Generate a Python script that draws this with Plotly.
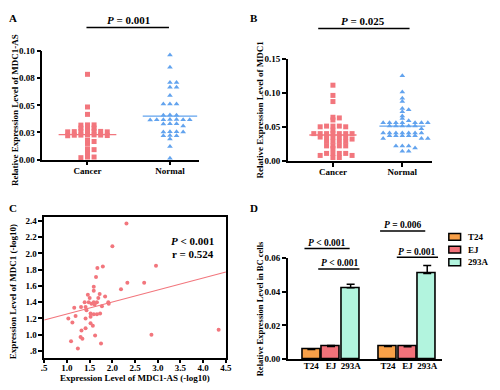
import numpy as np
import plotly.graph_objects as go

W, H = 500, 390
def px(x): return x / W
def py(y): return 1 - y / H

FONT = "Liberation Serif"
RED = "#F2767D"
BLUE = "#62A3EE"

# ---------------- Panel A data ----------------
A_categories = ["Cancer", "Normal"]
A_cancer = [0.0786, 0.0485, 0.0417,
            0.0320, 0.0320, 0.0318,
            0.0295, 0.0290, 0.0290,
            0.0265, 0.0262, 0.0262, 0.0260, 0.0258, 0.0256, 0.0256,
            0.0228, 0.0228, 0.0226, 0.0226, 0.0225, 0.0222, 0.0220,
            0.0179, 0.0167, 0.0149,
            0.0100, 0.0092,
            0.0071, 0.0048,
            0.0024, 0.0024, 0.0018]
A_normal = [0.0964, 0.0851, 0.0711, 0.0711, 0.0667, 0.0667, 0.0592,
            0.0512, 0.0512, 0.0512,
            0.0412, 0.0410, 0.0410,
            0.0369, 0.0369, 0.0368, 0.0368, 0.0367, 0.0367, 0.0366,
            0.0330, 0.0330, 0.0328, 0.0310,
            0.0256, 0.0256, 0.0255, 0.0255,
            0.0222, 0.0220, 0.0220,
            0.0190, 0.0122, 0.0012]
A_center = [0.023, 0.040]
A_ticks = [0, 0.025, 0.05, 0.075, 0.10]
A_ticktext = ["0.00", "0.03", "0.05", "0.08", "0.10"]

# ---------------- Panel B data ----------------
B_categories = ["Cancer", "Normal"]
B_cancer = [0.111, 0.096, 0.087, 0.064, 0.063, 0.060,
            0.051, 0.051, 0.051, 0.050, 0.050,
            0.045,
            0.040, 0.040, 0.040, 0.040, 0.040, 0.040, 0.040,
            0.035, 0.035, 0.035, 0.035, 0.035,
            0.032,
            0.0286, 0.0286, 0.0286, 0.0286,
            0.022, 0.022, 0.022, 0.022,
            0.018,
            0.011, 0.011, 0.011, 0.011,
            0.008, 0.008, 0.005, 0.005]
B_normal = [0.125, 0.101, 0.092, 0.087, 0.077, 0.075, 0.072, 0.066, 0.062, 0.059,
            0.056, 0.056, 0.056, 0.056, 0.056, 0.056, 0.056,
            0.051, 0.051, 0.051, 0.051, 0.051,
            0.047,
            0.041, 0.041, 0.041, 0.041, 0.041, 0.041, 0.041,
            0.037, 0.037, 0.037, 0.037, 0.037,
            0.033, 0.033, 0.033,
            0.022, 0.022, 0.022,
            0.019, 0.014, 0.014]
B_center = [0.038, 0.051]
B_ticks = [0, 0.05, 0.10, 0.15]
B_ticktext = ["0.00", "0.05", "0.10", "0.15"]

# ---------------- Panel C data ----------------
C_x = [2.31, 2.00, 1.67, 1.79, 1.64, 1.59, 1.59, 2.19, 2.33, 1.46, 1.72, 1.50, 1.69, 1.84,
       1.39, 1.48, 1.59, 1.66, 1.54, 1.61, 1.77, 1.91, 1.92, 1.16, 1.31, 1.41, 1.43, 1.52,
       1.59, 1.66, 1.73, 1.19, 1.03, 1.41, 1.52, 1.12, 1.52, 1.57, 1.41, 1.32, 1.62, 1.30,
       1.34, 1.09, 1.75, 1.24, 2.96, 2.70, 2.86, 4.34]
C_y = [2.37, 2.09, 1.82, 1.84, 1.71, 1.59, 1.54, 1.56, 1.64, 1.49, 1.50, 1.45, 1.45, 1.47,
       1.40, 1.40, 1.40, 1.40, 1.38, 1.37, 1.35, 1.40, 1.38, 1.33, 1.34, 1.34, 1.30, 1.26,
       1.25, 1.25, 1.26, 1.23, 1.20, 1.20, 1.22, 1.15, 1.14, 1.11, 1.08, 1.05, 0.99, 0.97,
       0.95, 0.92, 0.89, 0.83, 1.85, 1.64, 1.00, 1.06]
C_fit = [1.106, 0.148]  # intercept, slope
C_xticks = [0.5, 1.0, 1.5, 2.0, 2.5, 3.0, 3.5, 4.0, 4.5]
C_xticktext = [".5", "1.0", "1.5", "2.0", "2.5", "3.0", "3.5", "4.0", "4.5"]
C_yticks = [0.8, 1.0, 1.2, 1.4, 1.6, 1.8, 2.0, 2.2, 2.4]
C_yticktext = [".8", "1.0", "1.2", "1.4", "1.6", "1.8", "2.0", "2.2", "2.4"]
C_xrange = [0.5, 4.5]
C_yrange = [0.716, 2.444]

# ---------------- Panel D data ----------------
D_series = ["T24", "EJ", "293A"]
D_values = {"T24": [0.0056, 0.0075], "EJ": [0.0075, 0.0073], "293A": [0.0424, 0.0510]}
D_errors = {"T24": [0.0003, 0.0002], "EJ": [0.0006, 0.0003], "293A": [0.0022, 0.0048]}
D_colors = {"T24": "#F8A048", "EJ": "#F2727A", "293A": "#B2F4DE"}
D_ticks = [0, 0.02, 0.04, 0.06]
D_ticktext = ["0.00", "0.02", "0.04", "0.06"]


def swarm(vals, thresh):
    vals = np.asarray(vals, dtype=float)
    order = np.argsort(-vals, kind="stable")
    placed = []
    slots = np.zeros(len(vals))
    cand = [0]
    for k in range(1, 12):
        cand += [k, -k]
    for i in order:
        v = vals[i]
        for k in cand:
            if all(not (s == k and abs(pv - v) < thresh) for pv, s in placed):
                break
        placed.append((v, k))
        slots[i] = k
    return slots


fig = go.Figure()

def add_dots(vals, cat, step, thresh, symbol, color, xa, ya):
    off = swarm(vals, thresh) * step
    fig.add_trace(go.Scatter(x=cat + off, y=vals, mode="markers", xaxis=xa, yaxis=ya,
                             marker=dict(symbol=symbol, size=5, color=color, line=dict(width=0)),
                             cliponaxis=False, showlegend=False, hoverinfo="skip"))

def add_center(c, cat, half, color, xa, ya):
    fig.add_trace(go.Scatter(x=[cat - half, cat + half], y=[c, c], mode="lines",
                             xaxis=xa, yaxis=ya, line=dict(color=color, width=1.3),
                             showlegend=False, hoverinfo="skip"))

# Panel A
add_dots(A_cancer, 0, 0.08, 0.002, "square", RED, "x", "y")
add_dots(A_normal, 1, 0.08, 0.0025, "triangle-up", BLUE, "x", "y")
add_center(A_center[0], 0, 0.35, RED, "x", "y")
add_center(A_center[1], 1, 0.33, BLUE, "x", "y")

# Panel B
add_dots(B_cancer, 0, 0.092, 0.004, "square", RED, "x2", "y2")
add_dots(B_normal, 1, 0.092, 0.004, "triangle-up", BLUE, "x2", "y2")
add_center(B_center[0], 0, 0.34, RED, "x2", "y2")
add_center(B_center[1], 1, 0.33, BLUE, "x2", "y2")

# Panel C
fig.add_trace(go.Scatter(x=C_x, y=C_y, mode="markers", xaxis="x3", yaxis="y3",
                         marker=dict(symbol="circle", size=4, color=RED),
                         showlegend=False, hoverinfo="skip"))
fx = np.array(C_xrange)
fig.add_trace(go.Scatter(x=fx, y=C_fit[0] + C_fit[1] * fx, mode="lines", xaxis="x3", yaxis="y3",
                         line=dict(color=RED, width=1.2), showlegend=False, hoverinfo="skip"))

# Panel D
GROUP_STEP = 3.9
for si, s in enumerate(D_series):
    xs = [g * GROUP_STEP + si for g in range(len(D_values[s]))]
    fig.add_trace(go.Bar(x=xs, y=D_values[s], name=s, xaxis="x4", yaxis="y4", width=0.92,
                         marker=dict(color=D_colors[s], line=dict(color="black", width=1.6)),
                         error_y=dict(type="data", array=D_errors[s], arrayminus=[0] * 2,
                                      symmetric=False, color="black", thickness=1.5, width=4),
                         showlegend=False))
D_tickvals = [g * GROUP_STEP + si for g in range(2) for si in range(3)]
D_ticklabels = [s for g in range(2) for s in D_series]

tickfont = dict(family=FONT, size=9, color="black", weight="bold")
axis_common = dict(showline=True, linecolor="black", linewidth=1.5, showgrid=False, zeroline=False,
                   ticks="outside", ticklen=4, tickwidth=1.5, tickcolor="black", tickfont=tickfont)

fig.update_layout(
    width=W, height=H, margin=dict(l=0, r=0, t=0, b=0),
    paper_bgcolor="white", plot_bgcolor="white", barmode="overlay", bargap=0,
    showlegend=False,
    xaxis=dict(domain=[px(40), px(200)], range=[-0.548, 1.357], anchor="y",
               tickvals=[0, 1], ticktext=A_categories, ticklabelstandoff=-2, **axis_common),
    yaxis=dict(domain=[py(158.7), py(47.3)], range=[0, 0.1], anchor="x",
               tickvals=A_ticks, ticktext=A_ticktext, **axis_common),
    xaxis2=dict(domain=[px(290), px(437)], range=[-0.651, 1.43], anchor="y2",
                tickvals=[0, 1], ticktext=B_categories, ticklabelstandoff=-2, **axis_common),
    yaxis2=dict(domain=[py(160), py(55)], range=[0, 0.15], anchor="x2",
                tickvals=B_ticks, ticktext=B_ticktext, **axis_common),
    xaxis3=dict(domain=[px(42), px(227)], range=C_xrange, anchor="y3", mirror=True,
                tickvals=C_xticks, ticktext=C_xticktext, ticklabelstandoff=-3, **axis_common),
    yaxis3=dict(domain=[py(362), py(218)], range=C_yrange, anchor="x3", mirror=True,
                tickvals=C_yticks, ticktext=C_yticktext, **axis_common),
    xaxis4=dict(domain=[px(290), px(447)], range=[-1.2, 6.65], anchor="y4",
                tickvals=D_tickvals, ticktext=D_ticklabels, ticklabelstandoff=-3,
                **{**axis_common, "ticks": ""}),
    yaxis4=dict(domain=[py(363.3), py(260)], range=[0, 0.06], anchor="x4",
                tickvals=D_ticks, ticktext=D_ticktext, **axis_common),
)

ann = []
def text(x, y, t, size=10, xanchor="center", angle=0):
    ann.append(dict(x=px(x), y=py(y), xref="paper", yref="paper", text=t, showarrow=False,
                    xanchor=xanchor, yanchor="middle", textangle=angle,
                    font=dict(family=FONT, size=size, color="black", weight="bold")))

def hline(x0, x1, y):
    fig.add_shape(type="line", xref="paper", yref="paper", x0=px(x0), x1=px(x1), y0=py(y), y1=py(y),
                  line=dict(color="black", width=1.5))

# panel letters
text(10, 13, "A", 11)
text(256, 13, "B", 11)
text(10, 208, "C", 11)
text(256, 208, "D", 11)

# axis titles
text(12, 108, "Relative Expression Level of MDC1-AS", 9, angle=-90)
text(262, 107, "Relative Expression Level of MDC1", 9, angle=-90)
text(11, 294, "Expression Level of MDC1 (-log10)", 9, angle=-90)
text(134, 383, "Expression Level of MDC1-AS (-log10)", 9)
text(262, 312, "Relative Expression Level in BC cells", 8.5, angle=-90)

# significance
text(128, 15, "<i>P</i> = 0.001", 11)
hline(85, 169, 23)
text(367, 16, "<i>P</i> = 0.025", 11)
hline(321, 414, 24)
text(217, 242, "<i>P</i> &lt; 0.001", 11, xanchor="right")
text(217, 256, "r = 0.524", 11, xanchor="right")

text(330, 244, "<i>P</i> &lt; 0.001", 9.5)
hline(307, 353, 250)
text(343, 265, "<i>P</i> &lt; 0.001", 9.5)
hline(321, 363, 271)
text(407, 226, "<i>P</i> = 0.006", 9.5)
hline(384, 430, 232)
text(422, 253, "<i>P</i> = 0.001", 9.5)
hline(401, 443, 259)

# legend for panel D (glyph boxes + labels)
for i, s in enumerate(D_series):
    yc = 238 + 13 * i
    fig.add_shape(type="rect", xref="paper", yref="paper", x0=px(454), x1=px(466),
                  y0=py(yc + 3.5), y1=py(yc - 3.5), fillcolor=D_colors[s],
                  line=dict(color="black", width=1.5))
    text(471, yc, s, 9, xanchor="left")

fig.update_layout(annotations=ann)
fig.write_html("out.html", config={"displayModeBar": False},
               post_script="document.body.style.margin='0px';")
